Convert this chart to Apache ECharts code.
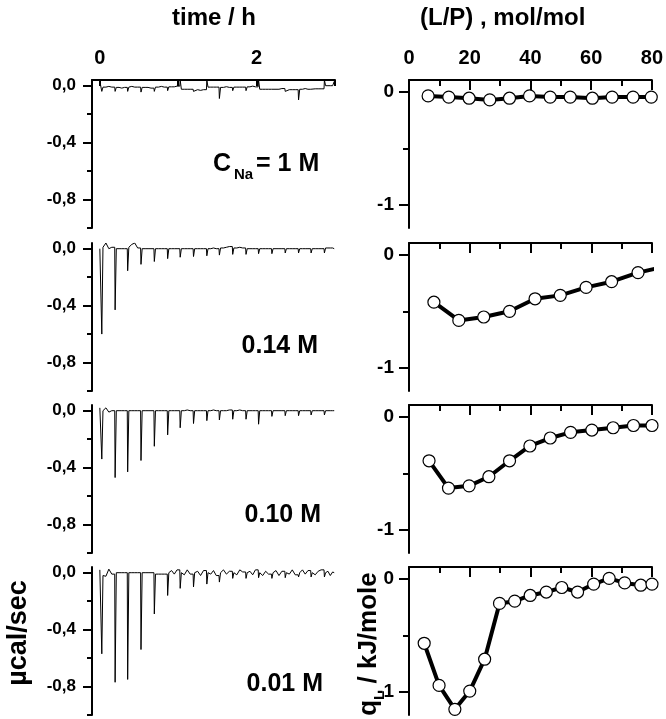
<!DOCTYPE html>
<html>
<head>
<meta charset="utf-8">
<script src="https://cdn.jsdelivr.net/npm/echarts@6/dist/echarts.min.js"></script>
<style>html,body{margin:0;padding:0;background:#fff}#c{width:666px;height:719px}</style>
</head>
<body>
<div id="c"></div>
<script>
// ---------- DATA ----------
// injection times (h), shared by all thermograms
const injT = [0.02,0.19,0.35,0.52,0.69,0.86,1.02,1.19,1.36,1.52,1.69,1.86,2.02,2.19,2.36,2.53,2.69,2.86];
const endT = 3.0;

// thermogram peak values (µcal/sec) and baselines after each injection
const start1 = 0.03, end1 = 0.03;
const peak1 = [-0.04,-0.04,-0.04,-0.045,-0.04,-0.035,0.04,-0.04,0.04,-0.09,-0.035,-0.035,0.04,-0.035,-0.04,-0.10,-0.035,0.04];
const base1 = [-0.01,-0.012,-0.01,-0.012,-0.01,-0.008,-0.025,-0.028,-0.01,-0.012,-0.01,-0.008,-0.025,-0.025,-0.028,-0.025,-0.022,0.0];
const wig1 = [0,0.005,0, 0,-0.005,0, 0.005,0,0, 0,0,-0.005, 0,0.005,0, 0,0,0.005, 0,0,0, 0,-0.005,0, 0,0,0, 0,0.005,0, 0,0,0, 0,0.005,0, 0,0,0, 0,0,0.005, 0,0,0, 0,0.005,0, 0,0,0, 0,0,0];

const start2 = 0.0, end2 = 0.0;
const peak2 = [-0.60,-0.43,-0.155,-0.11,-0.09,-0.07,-0.06,-0.055,-0.05,-0.045,-0.04,-0.04,-0.035,-0.035,-0.03,-0.03,-0.03,-0.03];
const base2 = [0.01,0.0,0.01,0,0,0,0,0,0,0.005,0.005,0,0,0,0,0,0,0.005];
const wig2 = [0.03,-0.01,0.0, 0,0,0, 0.02,0.03,-0.005, 0,0,0, 0,0,0, 0,0,0, 0,0,0, 0,0,0, 0,0.005,0, 0,0.005,0.01, 0,0.005,0, 0,0,0, 0,0,0, 0,0,0, 0,0,0, 0,0,0, 0,0,0, 0,0,0];

const start3 = 0.02, end3 = 0.0;
const peak3 = [-0.34,-0.47,-0.43,-0.35,-0.25,-0.17,-0.12,-0.09,-0.07,-0.065,-0.06,-0.06,-0.095,-0.04,-0.035,-0.035,-0.03,-0.03];
const base3 = [0.0,0,0,0,0,0,0,0,0,0,0,0,0,0,0,0,0,0];
const wig3 = [0.02,-0.01,0.0, 0,0,0, 0,0,0, 0,0,0, 0,0,0, 0,0,0, 0,0.005,0, 0,0,0, 0,0.005,0, 0,0,0.005, 0,0.005,0, 0,0,0, 0,0,0, 0,0,0, 0,0,0, 0,0,0, 0,0,0, 0,0,0];

const start4 = 0.02, end4 = 0.0;
const peak4 = [-0.57,-0.77,-0.75,-0.54,-0.29,-0.16,-0.11,-0.10,-0.08,-0.066,-0.04,-0.04,-0.035,-0.04,-0.035,-0.03,-0.03,-0.03];
const base4 = [-0.02,0.0,0.0,0.0,-0.01,0.0,0,0,0,0,0,0,0,0,0,0,0,0];
const wig4 = [-0.005,0.045,0.01, 0,0,0, 0,0,0, 0,0,0, 0,0,0, 0.015,-0.01,0.02, -0.015,0.02,-0.01, 0.01,-0.02,0.015, -0.01,0.015,-0.02, 0.02,-0.01,0.01, -0.015,0.02,0.005, 0.01,-0.015,0.02, -0.02,0.01,-0.01, 0.015,-0.02,0.01, -0.01,0.02,-0.015, 0.02,-0.01,0.015, -0.015,0.01,0.02, 0.01,-0.02,0.005];

// heat per mole of lipid (kJ/mole) vs lipid/protein ratio (mol/mol)
const lp1 = [6.3,13.1,19.8,26.6,33.1,39.7,46.5,53.1,60.4,66.9,73.8,79.8];
const q1  = [-0.04,-0.05,-0.06,-0.075,-0.06,-0.04,-0.05,-0.05,-0.06,-0.05,-0.05,-0.05];
const lp2 = [8.2,16.4,24.6,33.1,41.5,49.8,58.3,66.7,75.4,83.7];
const q2  = [-0.42,-0.58,-0.55,-0.50,-0.39,-0.36,-0.29,-0.24,-0.16,-0.11];
const lp3 = [6.6,13.0,19.8,26.3,33.1,39.8,46.5,53.2,60.2,67.2,73.9,80.0];
const q3  = [-0.39,-0.63,-0.61,-0.53,-0.39,-0.26,-0.19,-0.14,-0.12,-0.10,-0.08,-0.08];
const lp4 = [5.0,9.9,15.1,20.0,24.9,29.8,34.8,39.9,45.2,50.3,55.5,60.8,65.9,71.0,76.3,80.0];
const q4  = [-0.57,-0.94,-1.15,-0.99,-0.71,-0.22,-0.20,-0.15,-0.12,-0.08,-0.12,-0.05,0.00,-0.04,-0.06,-0.05];

const timeTicks = [0,1,2,3], timeLabels = [0,2];
const ucalMajor = [0,-0.4,-0.8], ucalMinor = [-0.2,-0.6,-1.0];
const qMajor = [0,-1], qMinor = [-0.5];
const concLabels = ['0.14 M','0.10 M','0.01 M'];

// ---------- BUILD ----------
function trace(start, end, peaks, base, wig) {
  const d = [[0, start]];
  for (let i = 0; i < injT.length; i++) {
    const t = injT[i];
    const prev = d[d.length - 1][1];
    d.push([t, prev]);
    d.push([t + 0.005, peaks[i]]);
    d.push([t + 0.02, base[i]]);
    const next = i < injT.length - 1 ? injT[i + 1] : endT;
    for (let j = 0; j < 3; j++) {
      d.push([t + 0.02 + (j + 1) * (next - t - 0.02) / 4, base[i] + wig[i * 3 + j]]);
    }
  }
  d.push([endT - 0.01, end]);
  return d;
}
const traces = [
  trace(start1, end1, peak1, base1, wig1),
  trace(start2, end2, peak2, base2, wig2),
  trace(start3, end3, peak3, base3, wig3),
  trace(start4, end4, peak4, base4, wig4)
];
const zip = (a, b) => a.map((v, i) => [v, b[i]]);
const qData = [zip(lp1,q1), zip(lp2,q2), zip(lp3,q3), zip(lp4,q4)];

const FONT = '"Liberation Sans", Arial, sans-serif';
const tops = [80, 243, 405, 567];
const H = 148;

const grids = [], xAxes = [], yAxes = [], series = [];
const black = '#000';
for (let p = 0; p < 4; p++) {
  grids.push({left: 92, top: tops[p], width: 243, height: H, containLabel: false});
  grids.push({left: 409, top: tops[p], width: 243, height: H, containLabel: false});
}
for (let p = 0; p < 4; p++) {
  const gl = 2 * p, gr = 2 * p + 1;
  xAxes[gl] = {
    gridIndex: gl, type: 'value', min: -0.1, max: 3.0, position: 'top',
    show: p === 0,
    axisLine: {show: true, onZero: false, lineStyle: {color: black, width: 2}},
    axisTick: {show: true, inside: true, length: 6, lineStyle: {color: black, width: 2}, customValues: timeTicks},
    axisLabel: {show: true, customValues: timeLabels, fontSize: 20, fontWeight: 'bold', color: black, fontFamily: FONT, margin: 12},
    splitLine: {show: false}
  };
  xAxes[gr] = {
    gridIndex: gr, type: 'value', min: 0, max: 80, interval: 20, position: 'top',
    axisLine: {show: true, onZero: false, lineStyle: {color: black, width: 2}},
    axisTick: {show: true, inside: true, length: 10, lineStyle: {color: black, width: 2}},
    minorTick: {show: true, splitNumber: 2, length: 6, lineStyle: {color: black, width: 2}},
    axisLabel: {show: p === 0, fontSize: 20, fontWeight: 'bold', color: black, fontFamily: FONT, margin: 12, showMinLabel: true, showMaxLabel: true},
    splitLine: {show: false}
  };
  yAxes[4 * p] = {
    gridIndex: gl, type: 'value', min: -1.0, max: 0.04, position: 'left',
    axisLine: {show: true, onZero: false, lineStyle: {color: black, width: 2}},
    axisTick: {show: true, length: 9, lineStyle: {color: black, width: 2}, customValues: ucalMajor},
    axisLabel: {show: true, customValues: ucalMajor, fontSize: 17, fontWeight: 'bold', color: black, fontFamily: FONT, margin: 16,
      formatter: v => (Math.abs(v) < 1e-9 ? '0,0' : v.toFixed(1).replace('.', ','))},
    splitLine: {show: false}
  };
  yAxes[4 * p + 1] = {
    gridIndex: gl, type: 'value', min: -1.0, max: 0.04, position: 'left',
    axisLine: {show: false, onZero: false},
    axisTick: {show: true, length: 5, lineStyle: {color: black, width: 2}, customValues: ucalMinor},
    axisLabel: {show: false},
    splitLine: {show: false}
  };
  yAxes[4 * p + 2] = {
    gridIndex: gr, type: 'value', min: -1.2, max: 0.1, position: 'left',
    axisLine: {show: true, onZero: false, lineStyle: {color: black, width: 2}},
    axisTick: {show: true, length: 10, lineStyle: {color: black, width: 2}, customValues: qMajor},
    axisLabel: {show: true, customValues: qMajor, fontSize: 19, fontWeight: 'bold', color: black, fontFamily: FONT, margin: 15,
      formatter: v => String(Math.round(v))},
    splitLine: {show: false}
  };
  yAxes[4 * p + 3] = {
    gridIndex: gr, type: 'value', min: -1.2, max: 0.1, position: 'left',
    axisLine: {show: false, onZero: false},
    axisTick: {show: true, length: 6, lineStyle: {color: black, width: 2}, customValues: qMinor},
    axisLabel: {show: false},
    splitLine: {show: false}
  };
  series.push({
    type: 'line', xAxisIndex: gl, yAxisIndex: 4 * p, data: traces[p],
    showSymbol: false, symbol: 'none', clip: true,
    lineStyle: {color: black, width: 1}, animation: false
  });
  series.push({
    type: 'line', xAxisIndex: gr, yAxisIndex: 4 * p + 2, data: qData[p],
    symbol: 'circle', symbolSize: 12, showSymbol: true, clip: true,
    lineStyle: {color: black, width: 4},
    itemStyle: {color: '#fff', borderColor: black, borderWidth: 1.2},
    animation: false
  });
}

const graphics = [
  {type: 'text', left: 172, top: 6, style: {text: 'time / h', font: 'bold 24px ' + FONT, fill: black}},
  {type: 'text', left: 420, top: 6, style: {text: '(L/P) , mol/mol', font: 'bold 24px ' + FONT, fill: black}},
  {type: 'text', x: 213, y: 152, style: {text: 'C', font: 'bold 25px ' + FONT, fill: black}},
  {type: 'text', x: 234, y: 167, style: {text: 'Na', font: 'bold 15px ' + FONT, fill: black}},
  {type: 'text', x: 256, y: 152, style: {text: '= 1 M', font: 'bold 25px ' + FONT, fill: black}},
  {type: 'text', x: 318, y: 346, style: {text: concLabels[0], font: 'bold 25px ' + FONT, fill: black, align: 'right', verticalAlign: 'middle'}},
  {type: 'text', x: 321, y: 515, style: {text: concLabels[1], font: 'bold 25px ' + FONT, fill: black, align: 'right', verticalAlign: 'middle'}},
  {type: 'text', x: 323, y: 684, style: {text: concLabels[2], font: 'bold 25px ' + FONT, fill: black, align: 'right', verticalAlign: 'middle'}},
  {type: 'text', x: 19, y: 633, rotation: Math.PI / 2,
    style: {text: 'µcal/sec', font: 'bold 27px ' + FONT, fill: black, align: 'center', verticalAlign: 'middle'}},
  {type: 'text', x: 369, y: 644, rotation: Math.PI / 2,
    style: {
      text: '{m|q}{s|L}{m| / kJ/mole}', align: 'center', verticalAlign: 'middle',
      rich: {
        m: {font: 'bold 26px ' + FONT, fill: black, lineHeight: 36, verticalAlign: 'middle'},
        s: {font: 'bold 15px ' + FONT, fill: black, lineHeight: 36, verticalAlign: 'bottom'}
      }
    }}
];

const chart = echarts.init(document.getElementById('c'), null, {renderer: 'canvas'});
chart.setOption({
  animation: false,
  backgroundColor: '#fff',
  grid: grids, xAxis: xAxes, yAxis: yAxes, series: series,
  graphic: graphics
});
</script>
</body>
</html>
